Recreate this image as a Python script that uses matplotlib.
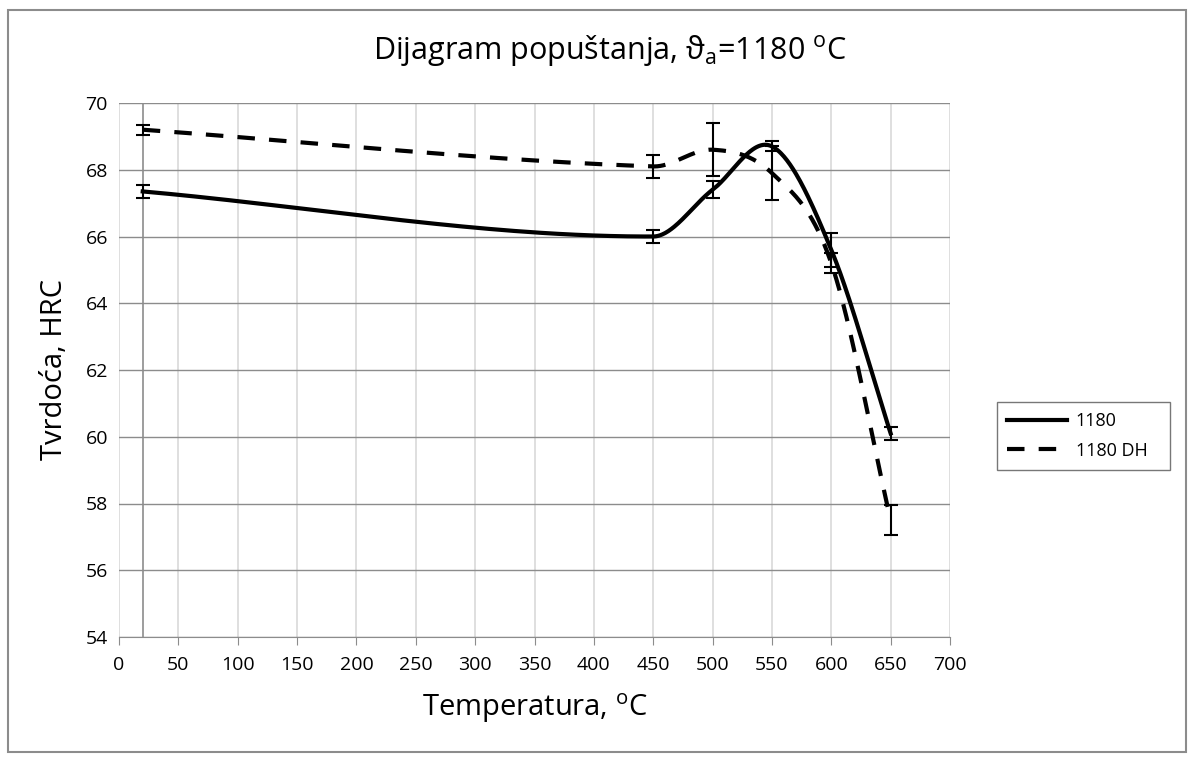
import numpy as np
import matplotlib
matplotlib.use("Agg")
import matplotlib.pyplot as plt
from matplotlib.patches import Rectangle

plt.rcParams["font.family"] = ["Open Sans", "DejaVu Sans"]
plt.rcParams["mathtext.fontset"] = "custom"
plt.rcParams["mathtext.rm"] = "Open Sans"
plt.rcParams["mathtext.it"] = "Open Sans:italic"

# data
temp = [20, 450, 500, 550, 600, 650]
hrc_1180 = [67.35, 66.0, 67.4, 68.7, 65.6, 60.1]
err_1180 = [0.2, 0.2, 0.25, 0.15, 0.5, 0.2]
hrc_1180dh = [69.2, 68.1, 68.6, 67.9, 65.2, 57.5]
err_1180dh = [0.15, 0.35, 0.8, 0.8, 0.3, 0.45]


def smooth(xs, ys, n=60):
    # hermite curve in x with centred slopes (no loops back in x)
    xs = np.asarray(xs, float)
    ys = np.asarray(ys, float)
    m = np.empty_like(ys)
    m[0] = (ys[1] - ys[0]) / (xs[1] - xs[0])
    m[-1] = (ys[-1] - ys[-2]) / (xs[-1] - xs[-2])
    m[1:-1] = (ys[2:] - ys[:-2]) / (xs[2:] - xs[:-2])
    out_x, out_y = [], []
    t = np.linspace(0, 1, n)
    for i in range(len(xs) - 1):
        h = xs[i + 1] - xs[i]
        h00 = 2 * t**3 - 3 * t**2 + 1
        h10 = t**3 - 2 * t**2 + t
        h01 = -2 * t**3 + 3 * t**2
        h11 = t**3 - t**2
        out_x.append(xs[i] + t * h)
        out_y.append(h00 * ys[i] + h10 * h * m[i] + h01 * ys[i + 1] + h11 * h * m[i + 1])
    return np.concatenate(out_x), np.concatenate(out_y)


fig = plt.figure(figsize=(11.94, 7.6), dpi=100)
ax = fig.add_axes([119 / 1194, 1 - 637 / 760, 831 / 1194, 534 / 760])

ax.set_xlim(0, 700)
ax.set_ylim(54, 70)
ax.set_xticks(np.arange(0, 701, 50))
ax.set_yticks(np.arange(54, 71, 2))

ax.grid(axis="x", color="#d9d9d9", lw=1.2)
ax.grid(axis="y", color="#8c8c8c", lw=1.0)
ax.set_axisbelow(True)
for s in ["left", "right", "top"]:
    ax.spines[s].set_visible(False)
ax.spines["bottom"].set_color("#8c8c8c")
ax.axvline(20, color="#8c8c8c", lw=1.2, zorder=1)

ax.tick_params(axis="x", direction="out", length=6, color="#8c8c8c",
               labelsize=14, pad=8)
ax.tick_params(axis="y", direction="out", length=0, labelsize=14, pad=8)

x1, y1 = smooth(temp, hrc_1180)
x2, y2 = smooth(temp, hrc_1180dh)
ax.plot(x1, y1, color="black", lw=3, label="1180", zorder=3)
ax.plot(x2, y2, color="black", lw=3, ls=(0, (4.2, 3.4)), label="1180 DH", zorder=3)

ax.errorbar(temp, hrc_1180, yerr=err_1180, fmt="none", ecolor="black",
            elinewidth=1.5, capsize=5, capthick=1.5, zorder=4)
ax.errorbar(temp, hrc_1180dh, yerr=err_1180dh, fmt="none", ecolor="black",
            elinewidth=1.5, capsize=5, capthick=1.5, zorder=4)

ax.set_xlabel("Temperatura, $^{\\mathrm{o}}$C", fontsize=21, labelpad=12)
ax.set_ylabel("Tvrdoća, HRC", fontsize=21, labelpad=12)
fig.text(610 / 1194, 1 - 50 / 760,
         "Dijagram popuštanja, ϑ$_{\\mathrm{a}}$=1180 $^{\\mathrm{o}}$C",
         ha="center", va="center", fontsize=22)

leg = ax.legend(loc="upper left", bbox_to_anchor=(1.0566, 0.32, 0.2082, 0.12),
                mode="expand", fontsize=13, frameon=True, fancybox=False,
                borderaxespad=0, handlelength=3.3, handletextpad=0.5,
                borderpad=0.55, labelspacing=0.65)
leg.get_frame().set_edgecolor("#555555")
leg.get_frame().set_linewidth(1.0)

fig.patches.append(Rectangle((8 / 1194, 8 / 760), 1178 / 1194, 742 / 760,
                             transform=fig.transFigure, fill=False,
                             edgecolor="#8c8c8c", lw=1.5))

fig.savefig("out.png", dpi=100)
